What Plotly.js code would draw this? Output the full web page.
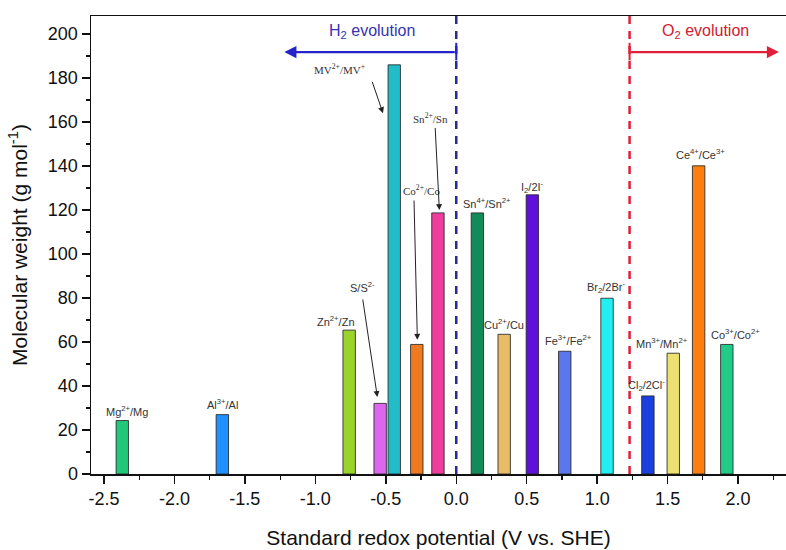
<!DOCTYPE html>
<html>
<head>
<meta charset="utf-8">
<script src="https://cdn.plot.ly/plotly-3.0.1.min.js"></script>
<style>html,body{margin:0;padding:0;background:#fff;}#chart{width:786px;height:550px;}</style>
</head>
<body>
<div id="chart"></div>
<script>
// Data
const couples = ['Mg2+/Mg','Al3+/Al','Zn2+/Zn','S/S2-','MV2+/MV+','Co2+/Co','Sn2+/Sn','Sn4+/Sn2+','Cu2+/Cu','I2/2I-','Fe3+/Fe2+','Br2/2Br-','Cl2/2Cl-','Mn3+/Mn2+','Ce4+/Ce3+','Co3+/Co2+'];
const labelsHtml = ['Mg<sup>2+</sup>/Mg','Al<sup>3+</sup>/Al','Zn<sup>2+</sup>/Zn','S/S<sup>2-</sup>','MV<sup>2+</sup>/MV<sup>+</sup>','Co<sup>2+</sup>/Co','Sn<sup>2+</sup>/Sn','Sn<sup>4+</sup>/Sn<sup>2+</sup>','Cu<sup>2+</sup>/Cu','I<sub>2</sub>/2I<sup>-</sup>','Fe<sup>3+</sup>/Fe<sup>2+</sup>','Br<sub>2</sub>/2Br<sup>-</sup>','Cl<sub>2</sub>/2Cl<sup>-</sup>','Mn<sup>3+</sup>/Mn<sup>2+</sup>','Ce<sup>4+</sup>/Ce<sup>3+</sup>','Co<sup>3+</sup>/Co<sup>2+</sup>'];
const potentials = [-2.37, -1.66, -0.76, -0.54, -0.44, -0.28, -0.13, 0.15, 0.34, 0.54, 0.77, 1.07, 1.36, 1.54, 1.72, 1.92];
const weights = [24.3, 27.0, 65.4, 32.1, 186.0, 58.9, 118.7, 118.7, 63.5, 126.9, 55.8, 79.9, 35.5, 54.9, 140.1, 58.9];
const xTickVals = [-2.5, -2.0, -1.5, -1.0, -0.5, 0.0, 0.5, 1.0, 1.5, 2.0];
const xTickText = ['-2.5','-2.0','-1.5','-1.0','-0.5','0.0','0.5','1.0','1.5','2.0'];
const yTickVals = [0,20,40,60,80,100,120,140,160,180,200];
const H2_potential = 0.0;
const O2_potential = 1.23;

// Styles
const barColors = ['#22c77a','#1e90ff','#9ad42a','#dd66ee','#22bbc8','#f07a20','#f03c9c','#128a5a','#e8bc66','#6010d8','#5a78ec','#22f0f0','#1a40e0','#ece070','#ff7f0e','#22cc88'];
const serifIdx = [4,5,6];
// label placement offsets (in data units) relative to bar
const labelPos = [
  {dx:0.03, y:28.6}, {dx:0.0, y:31.8}, {dx:-0.09, y:69.5}, {dx:-0.125, y:85, arrow:{tx:-0.56, ty:35, fy:80}},
  {dx:-0.39, y:184, arrow:{tx:-0.52, ty:164, fx:-0.6, fy:179}},
  {dx:0.03, y:129, arrow:{tx:-0.276, ty:61, fx:-0.3, fy:125}},
  {dx:-0.05, y:162, arrow:{tx:-0.12, ty:120, fx:-0.15, fy:158}},
  {dx:0.07, y:123}, {dx:0.0, y:68}, {dx:0.0, y:130.5}, {dx:0.03, y:61}, {dx:-0.01, y:85},
  {dx:-0.01, y:40.5}, {dx:-0.08, y:59.5}, {dx:0.015, y:145.5}, {dx:0.06, y:63.6}
];

const trace = {
  type:'bar', x: potentials, y: weights, width: 0.088,
  marker:{color: barColors, line:{color:'rgba(40,40,40,0.85)', width:1}},
  text: couples, hoverinfo:'x+y+text', textposition:'none'
};

const annotations = [];
couples.forEach((c,i)=>{
  const p = labelPos[i];
  annotations.push({
    x: potentials[i] + p.dx, y: p.y, xref:'x', yref:'y', text: labelsHtml[i], showarrow:false,
    font:{family: serifIdx.includes(i) ? 'Liberation Serif, serif' : 'Liberation Sans, Arial, sans-serif', size:11, color:'#333'},
    xanchor:'center', yanchor:'middle'
  });
  if (p.arrow) {
    annotations.push({
      x: p.arrow.tx, y: p.arrow.ty, ax: (p.arrow.fx !== undefined ? p.arrow.fx : potentials[i]+p.dx), ay: p.arrow.fy,
      xref:'x', yref:'y', axref:'x', ayref:'y', text:'', showarrow:true,
      arrowhead:2, arrowsize:1.2, arrowwidth:1, arrowcolor:'#222', standoff:0, startstandoff:0
    });
  }
});
// Evolution arrows
annotations.push({x:-1.22, y:191.8, ax:H2_potential, ay:191.8, xref:'x', yref:'y', axref:'x', ayref:'y', text:'', showarrow:true, arrowhead:2, arrowsize:1.1, arrowwidth:2.2, arrowcolor:'#2424c8', standoff:0});
annotations.push({x:2.29, y:191.8, ax:O2_potential, ay:191.8, xref:'x', yref:'y', axref:'x', ayref:'y', text:'', showarrow:true, arrowhead:2, arrowsize:1.1, arrowwidth:2.2, arrowcolor:'#e0203a', standoff:0});
annotations.push({x:-0.6, y:201, xref:'x', yref:'y', text:'H<sub>2</sub> evolution', showarrow:false, font:{family:'Liberation Sans, Arial, sans-serif', size:16, color:'#3434b0'}});
annotations.push({x:1.77, y:201, xref:'x', yref:'y', text:'O<sub>2</sub> evolution', showarrow:false, font:{family:'Liberation Sans, Arial, sans-serif', size:16, color:'#d02030'}});

const shapes = [
  {type:'line', xref:'x', yref:'paper', x0:H2_potential, x1:H2_potential, y0:0, y1:1, line:{color:'#2a2a90', width:2.5, dash:'8px,7px'}},
  {type:'line', xref:'x', yref:'paper', x0:O2_potential, x1:O2_potential, y0:0, y1:1, line:{color:'#e0203a', width:2.5, dash:'8px,7px'}},
  {type:'line', xref:'x', yref:'y', x0:H2_potential, x1:H2_potential, y0:188, y1:196, line:{color:'#2424c8', width:2}},
  {type:'line', xref:'x', yref:'y', x0:O2_potential, x1:O2_potential, y0:188, y1:196, line:{color:'#e0203a', width:2}}
];

const layout = {
  width:786, height:550,
  margin:{l:91, r:0, t:16, b:76},
  paper_bgcolor:'#fff', plot_bgcolor:'#fff',
  showlegend:false,
  font:{family:'Liberation Sans, Arial, sans-serif', color:'#111'},
  xaxis:{
    range:[-2.592, 2.34], showgrid:false, zeroline:false,
    showline:true, linecolor:'#111', linewidth:1.5, mirror:true,
    ticks:'outside', ticklen:8, tickwidth:1.5, tickcolor:'#111',
    tickvals:xTickVals, ticktext:xTickText,
    tickfont:{size:18, color:'#111'},
    minor:{dtick:0.25, tick0:0, ticks:'outside', ticklen:4, tickwidth:1.2, tickcolor:'#111'},
    title:{text:'Standard redox potential (V vs. SHE)', font:{size:21, color:'#111'}, standoff:22}
  },
  yaxis:{
    range:[0, 208.2], showgrid:false, zeroline:false,
    showline:true, linecolor:'#111', linewidth:1.5, mirror:false,
    ticks:'outside', ticklen:8, tickwidth:1.5, tickcolor:'#111',
    tickvals:yTickVals, tickfont:{size:18, color:'#111'},
    minor:{dtick:10, tick0:0, ticks:'outside', ticklen:4, tickwidth:1.2, tickcolor:'#111'},
    title:{text:'Molecular weight (g mol<sup>-1</sup>)', font:{size:21, color:'#111'}, standoff:14}
  },
  annotations: annotations,
  shapes: shapes
};

Plotly.newPlot('chart', [trace], layout, {displayModeBar:false, staticPlot:true});
</script>
</body>
</html>
